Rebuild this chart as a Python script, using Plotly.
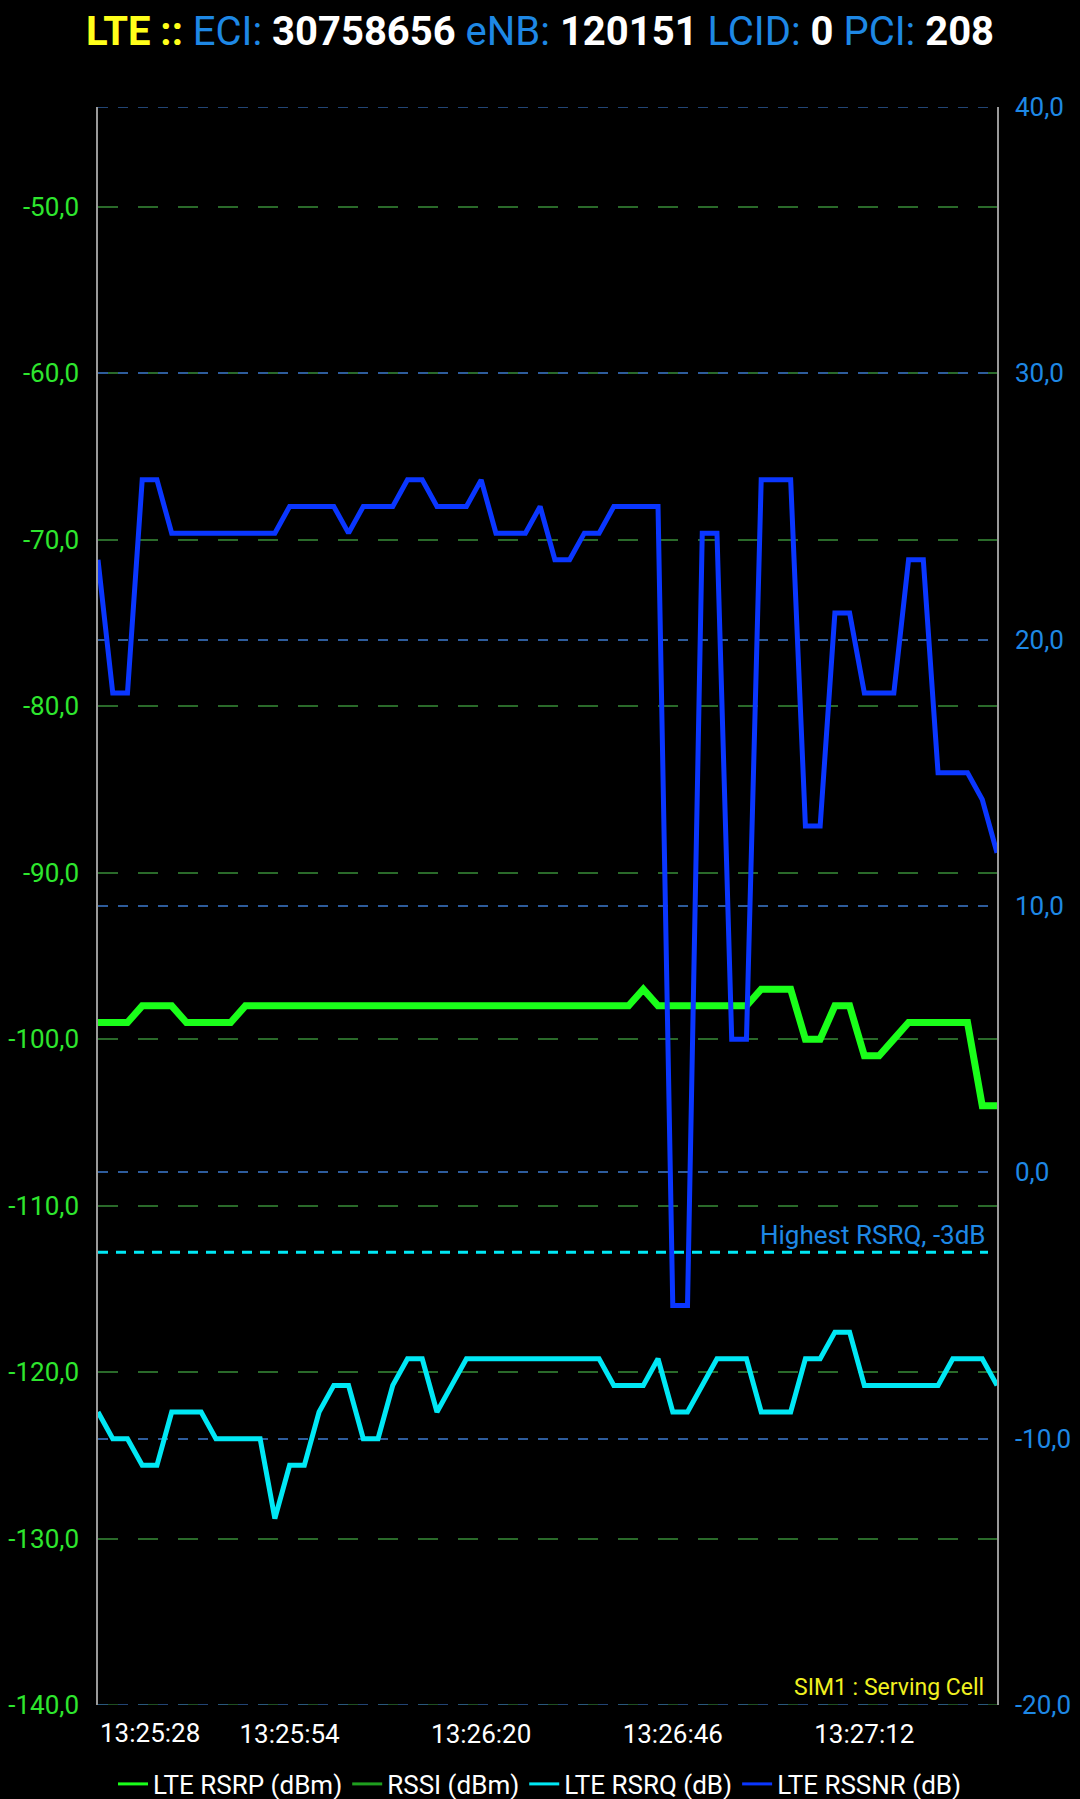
import plotly.graph_objects as go

# ---------------- data ----------------
DAY = "2024-01-01 "
TIMES = [
    "13:25:28", "13:25:30", "13:25:32", "13:25:34", "13:25:36", "13:25:38", "13:25:40", "13:25:42",
    "13:25:44", "13:25:46", "13:25:48", "13:25:50", "13:25:52", "13:25:54", "13:25:56", "13:25:58",
    "13:26:00", "13:26:02", "13:26:04", "13:26:06", "13:26:08", "13:26:10", "13:26:12", "13:26:14",
    "13:26:16", "13:26:18", "13:26:20", "13:26:22", "13:26:24", "13:26:26", "13:26:28", "13:26:30",
    "13:26:32", "13:26:34", "13:26:36", "13:26:38", "13:26:40", "13:26:42", "13:26:44", "13:26:46",
    "13:26:48", "13:26:50", "13:26:52", "13:26:54", "13:26:56", "13:26:58", "13:27:00", "13:27:02",
    "13:27:04", "13:27:06", "13:27:08", "13:27:10", "13:27:12", "13:27:14", "13:27:16", "13:27:18",
    "13:27:20", "13:27:22", "13:27:24", "13:27:26", "13:27:28", "13:27:30",
]

RSRP = [-99, -99, -99, -98, -98, -98, -99, -99, -99, -99,
        -98, -98, -98, -98, -98, -98, -98, -98, -98, -98,
        -98, -98, -98, -98, -98, -98, -98, -98, -98, -98,
        -98, -98, -98, -98, -98, -98, -98, -97, -98, -98,
        -98, -98, -98, -98, -98, -97, -97, -97, -100, -100,
        -98, -98, -101, -101, -100, -99, -99, -99, -99, -99,
        -104, -104]

RSSI = []  # no samples shown

RSRQ = [-9, -10, -10, -11, -11, -9, -9, -9, -10, -10,
        -10, -10, -13, -11, -11, -9, -8, -8, -10, -10,
        -8, -7, -7, -9, -8, -7, -7, -7, -7, -7,
        -7, -7, -7, -7, -7, -8, -8, -8, -7, -9,
        -9, -8, -7, -7, -7, -9, -9, -9, -7, -7,
        -6, -6, -8, -8, -8, -8, -8, -8, -7, -7,
        -7, -8]

RSSNR = [23, 18, 18, 26, 26, 24, 24, 24, 24, 24,
         24, 24, 24, 25, 25, 25, 25, 24, 25, 25,
         25, 26, 26, 25, 25, 25, 26, 24, 24, 24,
         25, 23, 23, 24, 24, 25, 25, 25, 25, -5,
         -5, 24, 24, 5, 5, 26, 26, 26, 13, 13,
         21, 21, 18, 18, 18, 23, 23, 15, 15, 15,
         14, 12]

X_TICKS = ["13:25:28", "13:25:54", "13:26:20", "13:26:46", "13:27:12"]
LEFT_TICKS = [-50, -60, -70, -80, -90, -100, -110, -120, -130, -140]
RIGHT_TICKS = [40, 30, 20, 10, 0, -10, -20]
LEFT_RANGE = [-140, -44]
RIGHT_RANGE = [-20, 40]
RSRQ_LIMIT = -3

ECI, ENB, LCID, PCI = 30758656, 120151, 0, 208

# ---------------- style ----------------
FONT = "Roboto"
YELLOW = "#ffff1a"
BLUE_TXT = "#1e88e5"
GREEN_TXT = "#2ee62e"
C_RSRP = "#1aff1a"
C_RSSI = "#1f9f1f"
C_RSRQ = "#00e8f5"
C_RSSNR = "#0a36ff"
GRID_G = "#2a6a2a"
GRID_B = "#2e5c9c"


def fmt(v):
    return f"{v:.1f}".replace(".", ",")


x = [DAY + t for t in TIMES]

fig = go.Figure()

fig.add_trace(go.Scatter(x=x, y=RSRP, mode="lines", yaxis="y",
                         line=dict(color=C_RSRP, width=7), showlegend=False))
fig.add_trace(go.Scatter(x=[DAY + t for t in TIMES[:len(RSSI)]], y=RSSI, mode="lines", yaxis="y",
                         line=dict(color=C_RSSI, width=3), showlegend=False))
fig.add_trace(go.Scatter(x=x, y=RSRQ, mode="lines", yaxis="y2",
                         line=dict(color=C_RSRQ, width=5), showlegend=False))
fig.add_trace(go.Scatter(x=x, y=RSSNR, mode="lines", yaxis="y2",
                         line=dict(color=C_RSSNR, width=5), showlegend=False))

# legend-only entries
for name, col in [("LTE RSRP (dBm)", C_RSRP), ("RSSI (dBm)", C_RSSI),
                  ("LTE RSRQ (dB)", C_RSRQ), ("LTE RSSNR (dB)", C_RSSNR)]:
    fig.add_trace(go.Scatter(x=[None], y=[None], mode="lines", name=name,
                             line=dict(color=col, width=3), showlegend=True))

title = (f"<b><span style='color:{YELLOW}'>LTE ::</span></b> "
         f"<span style='color:{BLUE_TXT}'>ECI:</span> <b>{ECI}</b> "
         f"<span style='color:{BLUE_TXT}'>eNB:</span> <b>{ENB}</b> "
         f"<span style='color:{BLUE_TXT}'>LCID:</span> <b>{LCID}</b> "
         f"<span style='color:{BLUE_TXT}'>PCI:</span> <b>{PCI}</b>")

fig.update_layout(
    width=1080, height=1799,
    paper_bgcolor="black", plot_bgcolor="black",
    margin=dict(l=98, r=83, t=107, b=94, autoexpand=False),
    font=dict(family=FONT, color="white"),
    title=dict(text=title, x=0.5, xanchor="center", xref="container",
               y=1 - 31 / 1799, yanchor="middle", yref="container",
               font=dict(family=FONT, size=40, color="white")),
    xaxis=dict(type="date", range=[x[0], x[-1]], automargin=False,
               tickvals=[DAY + t for t in X_TICKS[1:]], ticktext=X_TICKS[1:],
               showgrid=False, zeroline=False, showline=False,
               ticks="outside", ticklen=6, tickcolor="rgba(0,0,0,0)",
               tickfont=dict(family=FONT, size=26, color="white")),
    yaxis=dict(range=LEFT_RANGE, tickvals=LEFT_TICKS, ticktext=[fmt(v) for v in LEFT_TICKS],
               automargin=False,
               showgrid=True, gridcolor=GRID_G, gridwidth=1.5, griddash="20px,20px",
               zeroline=False, showline=True, linecolor="#9a9a9a", linewidth=1.5,
               ticks="outside", ticklen=12, tickcolor="rgba(0,0,0,0)",
               tickfont=dict(family=FONT, size=26, color=GREEN_TXT)),
    yaxis2=dict(range=RIGHT_RANGE, tickvals=RIGHT_TICKS, ticktext=[fmt(v) for v in RIGHT_TICKS],
                overlaying="y", side="right", automargin=False,
                showgrid=True, gridcolor=GRID_B, gridwidth=1.5, griddash="10px,10px",
                zeroline=False, showline=True, linecolor="#9a9a9a", linewidth=1.5,
                ticks="outside", ticklen=11, tickcolor="rgba(0,0,0,0)",
                tickfont=dict(family=FONT, size=26, color=BLUE_TXT)),
    legend=dict(orientation="h", xref="container", x=0.5, xanchor="center",
                yref="container", y=(1799 - 1784) / 1799, yanchor="middle",
                font=dict(family=FONT, size=26, color="white"),
                itemwidth=30, bgcolor="rgba(0,0,0,0)"),
)

# grid lines on the range edges (plotly skips these)
fig.add_shape(type="line", layer="below", xref="x domain", x0=0, x1=1, yref="y",
              y0=LEFT_RANGE[0], y1=LEFT_RANGE[0], line=dict(color=GRID_G, width=1.5, dash="20px,20px"))
for v in (RIGHT_RANGE[0], RIGHT_RANGE[1]):
    fig.add_shape(type="line", layer="below", xref="x domain", x0=0, x1=1, yref="y2",
                  y0=v, y1=v, line=dict(color=GRID_B, width=1.5, dash="10px,10px"))

# RSRQ limit line and labels
fig.add_shape(type="line", xref="x domain", x0=0, x1=0.99, yref="y2", y0=RSRQ_LIMIT, y1=RSRQ_LIMIT,
              line=dict(color=C_RSRQ, width=3, dash="10px,8px"))
fig.add_annotation(text=f"Highest RSRQ, {RSRQ_LIMIT}dB", xref="x domain", x=0.99, xanchor="right",
                   yref="y2", y=RSRQ_LIMIT, yanchor="bottom", yshift=0, showarrow=False,
                   font=dict(family=FONT, size=26, color=BLUE_TXT))
fig.add_annotation(text="SIM1 : Serving Cell", xref="x domain", x=0.988, xanchor="right",
                   yref="y domain", y=0, yanchor="bottom", yshift=2, showarrow=False,
                   font=dict(family=FONT, size=23, color="#f0f020"))
# first time label kept inside the plot edge
fig.add_annotation(text=X_TICKS[0], xref="x", x=DAY + X_TICKS[0], xanchor="left",
                   yref="y domain", y=0, yanchor="top", yshift=-11, showarrow=False,
                   font=dict(family=FONT, size=26, color="white"))

fig.write_html("out.html", config={"displayModeBar": False},
               post_script="document.body.style.margin='0';")
